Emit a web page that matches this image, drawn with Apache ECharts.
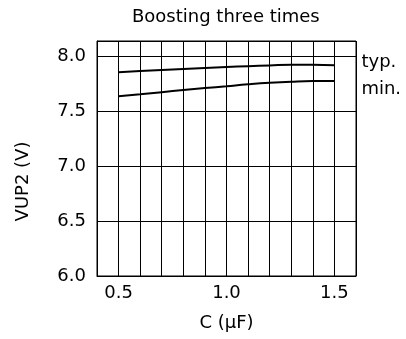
<!DOCTYPE html>
<html>
<head>
<meta charset="utf-8">
<script src="https://cdn.jsdelivr.net/npm/echarts@6/dist/echarts.min.js"></script>
<style>
  html, body { margin: 0; padding: 0; background: #fff; }
  #chart { width: 406px; height: 339px; }
</style>
</head>
<body>
<div id="chart"></div>
<script>
// capacitance (uF)
const capValues = [0.5, 0.6, 0.7, 0.8, 0.9, 1.0, 1.1, 1.2, 1.3, 1.4, 1.5]
// VUP2 (V)
const typValues = [7.852, 7.863, 7.873, 7.882, 7.891, 7.899, 7.907, 7.914, 7.920, 7.921, 7.915]
const minValues = [7.634, 7.652, 7.671, 7.690, 7.708, 7.725, 7.742, 7.756, 7.766, 7.772, 7.773]
const xTickLabels = ['0.5', '1.0', '1.5']
const yTickLabels = ['6.0', '6.5', '7.0', '7.5', '8.0']

const font = 'DejaVu Sans'
const chart = echarts.init(document.getElementById('chart'))

const mkSeries = (name, vals, off) => ({
  name: name,
  type: 'line',
  data: capValues.map((c, i) => [c, vals[i]]),
  smooth: true,
  symbol: 'none',
  lineStyle: { color: '#000', width: 2 },
  endLabel: {
    show: true,
    formatter: '{a}',
    color: '#000',
    fontFamily: font,
    fontSize: 18,
    distance: 0,
    offset: off
  }
})

chart.setOption({
  animation: false,
  title: {
    text: 'Boosting three times',
    left: 127,
    top: 3,
    textStyle: { fontFamily: font, fontSize: 18, fontWeight: 'normal', color: '#000' }
  },
  grid: {
    left: 97, right: 50, top: 41, bottom: 63,
    show: true, borderColor: '#000', borderWidth: 1
  },
  xAxis: {
    type: 'value',
    min: 0.4, max: 1.6, interval: 0.1,
    name: 'C (μF)',
    nameLocation: 'middle',
    nameGap: 38,
    nameTextStyle: { fontFamily: font, fontSize: 18, color: '#000' },
    axisLine: { lineStyle: { color: '#000' } },
    axisTick: { show: false },
    splitLine: { show: true, lineStyle: { color: '#000', width: 1 } },
    axisLabel: {
      fontFamily: font, fontSize: 18, color: '#000', margin: 8,
      formatter: v => xTickLabels.includes(v.toFixed(1)) ? v.toFixed(1) : ''
    }
  },
  yAxis: {
    type: 'value',
    min: 6, max: 8.136, interval: 0.5,
    name: 'VUP2 (V)',
    nameLocation: 'middle',
    nameGap: 65,
    nameTextStyle: { fontFamily: font, fontSize: 18, color: '#000', padding: [0, 46, 0, 0] },
    axisLine: { show: true, lineStyle: { color: '#000' } },
    axisTick: { show: false },
    splitLine: { show: true, lineStyle: { color: '#000', width: 1 } },
    axisLabel: {
      fontFamily: font, fontSize: 18, color: '#000', margin: 11,
      showMaxLabel: false,
      formatter: v => yTickLabels.includes(v.toFixed(1)) ? v.toFixed(1) : ''
    }
  },
  series: [
    mkSeries('typ.', typValues, [27, -3]),
    mkSeries('min.', minValues, [27, 8])
  ]
})
</script>
</body>
</html>
